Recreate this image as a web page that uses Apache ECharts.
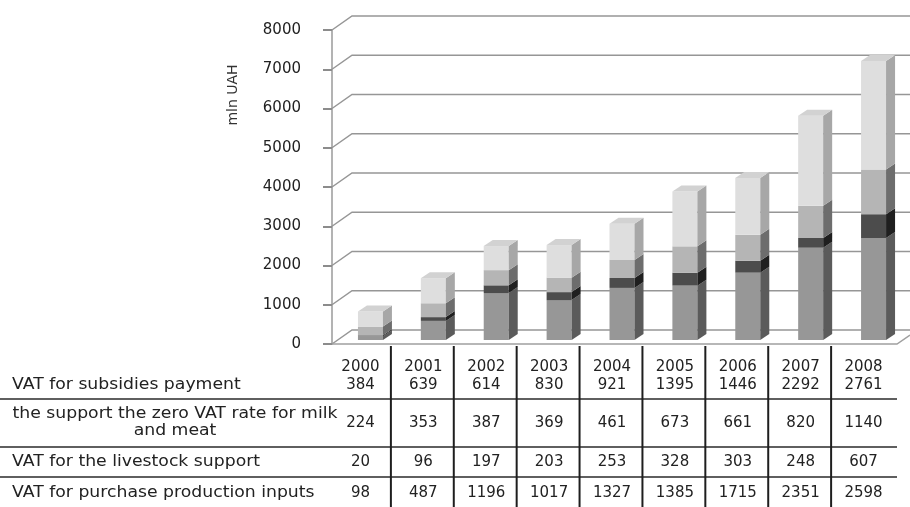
<!DOCTYPE html>
<html>
<head>
<meta charset="utf-8">
<script src="https://cdn.jsdelivr.net/npm/echarts@6/dist/echarts.min.js"></script>
<style>
  html, body { margin: 0; padding: 0; background: #ffffff; }
  #chart { width: 910px; height: 507px; }
</style>
</head>
<body>
<div id="chart"></div>
<script>
// VAT-based support of agriculture, mln UAH
const years = ['2000', '2001', '2002', '2003', '2004', '2005', '2006', '2007', '2008'];
const subsidiesVat = [384, 639, 614, 830, 921, 1395, 1446, 2292, 2761];
const zeroRateVat  = [224, 353, 387, 369, 461, 673, 661, 820, 1140];
const livestockVat = [20, 96, 197, 203, 253, 328, 303, 248, 607];
const inputsVat    = [98, 487, 1196, 1017, 1327, 1385, 1715, 2351, 2598];
const yTicks = [0, 1000, 2000, 3000, 4000, 5000, 6000, 7000, 8000];
const rowLabels = [
  'VAT for subsidies payment',
  'the support the zero VAT rate for milk\nand meat',
  'VAT for the livestock support',
  'VAT for purchase production inputs'
];
// table rows, top to bottom, in the order they are printed
const tableRows = [subsidiesVat, zeroRateVat, livestockVat, inputsVat];

const FONT = 'DejaVu Sans';
// 3D look: back wall offset and bar box geometry
const WALL_DX = 20, WALL_DY = 14;
const FACE_W = 25, SIDE_DX = 9, SIDE_DY = 6, BAR_SHIFT_X = 11, BAR_SHIFT_Y = -4;
// table row centres and rules
const ROW_Y = { header: 367, rows: [385, 423, 462, 493] };
const RULES_Y = [399, 447, 477];

function cumulative(lists) {
  return years.map((_, i) => lists.reduce((s, l) => s + l[i], 0));
}

function segmentSeries(name, values, below, colors, isTop) {
  return {
    type: 'custom',
    name: name,
    z: 3,
    data: values.map((v, i) => [i, below[i], below[i] + v]),
    encode: { x: 0, y: [1, 2] },
    renderItem: function (params, api) {
      const i = api.value(0);
      const pb = api.coord([i, api.value(1)]);
      const pt = api.coord([i, api.value(2)]);
      const cx = pb[0] + BAR_SHIFT_X;
      const x0 = cx - FACE_W / 2, x1 = cx + FACE_W / 2;
      const yb = pb[1] + BAR_SHIFT_Y, yt = pt[1] + BAR_SHIFT_Y;
      const children = [
        { type: 'rect', shape: { x: x0, y: yt, width: FACE_W, height: yb - yt },
          style: { fill: colors.front } },
        { type: 'polygon',
          shape: { points: [[x1, yb], [x1, yt], [x1 + SIDE_DX, yt - SIDE_DY], [x1 + SIDE_DX, yb - SIDE_DY]] },
          style: { fill: colors.side } }
      ];
      if (isTop) {
        children.push({ type: 'polygon',
          shape: { points: [[x0, yt], [x1, yt], [x1 + SIDE_DX, yt - SIDE_DY], [x0 + SIDE_DX, yt - SIDE_DY]] },
          style: { fill: colors.top } });
      }
      return { type: 'group', children: children };
    }
  };
}

const base0 = years.map(() => 0);
const base1 = cumulative([inputsVat]);
const base2 = cumulative([inputsVat, livestockVat]);
const base3 = cumulative([inputsVat, livestockVat, zeroRateVat]);

// back wall gridlines and the floor edge
const wallSeries = {
  type: 'custom',
  z: 1,
  silent: true,
  data: yTicks.map(v => [0, v]),
  encode: { x: 0, y: 1 },
  renderItem: function (params, api) {
    const cs = params.coordSys;
    const fx = cs.x + 4;
    const y = api.coord([0, api.value(1)])[1];
    const w = api.getWidth();
    const children = [{
      type: 'polyline',
      shape: { points: [[fx, y], [fx + WALL_DX, y - WALL_DY], [w, y - WALL_DY]] },
      style: { stroke: '#969696', lineWidth: 1.5, fill: null }
    }];
    if (api.value(1) === 0) {
      const rx = cs.x + cs.width + 3;
      children.push({
        type: 'polyline',
        shape: { points: [[fx, y], [rx, y], [rx + 13, y - 9]] },
        style: { stroke: '#a0a0a0', lineWidth: 1.5, fill: null }
      });
    }
    return { type: 'group', children: children };
  }
};

// data table under the plot: one column per year
const tableSeries = {
  type: 'custom',
  z: 4,
  silent: true,
  data: years.map((_, i) => [i, 0]),
  encode: { x: 0, y: 1 },
  renderItem: function (params, api) {
    const i = api.value(0);
    const x = api.coord([i, 0])[0];
    const band = api.size([1, 0])[0];
    const txt = (s, y) => ({
      type: 'text', x: x + 1, y: y,
      style: { text: String(s), fill: '#222', font: '15px "' + FONT + '"',
               textAlign: 'center', textVerticalAlign: 'middle' }
    });
    const children = [txt(years[i], ROW_Y.header)];
    tableRows.forEach((row, r) => children.push(txt(row[i], ROW_Y.rows[r])));
    if (i > 0) {
      children.push({
        type: 'line',
        shape: { x1: x - band / 2, y1: 346, x2: x - band / 2, y2: 507 },
        style: { stroke: '#1e1e1e', lineWidth: 2 }
      });
    }
    return { type: 'group', children: children };
  }
};

const graphics = [];
rowLabels.forEach((label, r) => {
  const centred = label.indexOf('\n') >= 0;
  graphics.push({
    type: 'text',
    x: centred ? 175 : 12,
    y: ROW_Y.rows[r],
    scaleX: 1.15,
    style: {
      text: label, fill: '#222', font: '15px "' + FONT + '"',
      textAlign: centred ? 'center' : 'left', textVerticalAlign: 'middle',
      lineHeight: 17
    }
  });
});
RULES_Y.forEach(y => graphics.push({
  type: 'line',
  shape: { x1: 0, y1: y, x2: 897, y2: y },
  style: { stroke: '#2a2a2a', lineWidth: 1.5 }
}));
graphics.push({
  type: 'text', x: 233, y: 95, rotation: Math.PI / 2,
  style: { text: 'mln UAH', fill: '#333', font: '14px "' + FONT + '"',
           textAlign: 'center', textVerticalAlign: 'middle' }
});

const chart = echarts.init(document.getElementById('chart'), null, { renderer: 'canvas' });
chart.setOption({
  animation: false,
  backgroundColor: '#ffffff',
  grid: { left: 328, right: 16, top: 30, bottom: 163 },
  xAxis: {
    type: 'category', data: years, boundaryGap: true,
    axisLine: { show: false }, axisTick: { show: false }, axisLabel: { show: false }
  },
  yAxis: {
    type: 'value', min: 0, max: 8000, interval: 1000, offset: -4,
    axisLine: { show: true, lineStyle: { color: '#9a9a9a', width: 1.5 } },
    axisTick: { show: true, length: 9, lineStyle: { color: '#8c8c8c', width: 2 } },
    axisLabel: { margin: 31, color: '#222', fontFamily: FONT, fontSize: 15,
                 formatter: v => String(v) },
    splitLine: { show: false }
  },
  series: [
    wallSeries,
    segmentSeries('VAT for purchase production inputs', inputsVat, base0,
      { front: '#979797', side: '#5b5b5b' }, false),
    segmentSeries('VAT for the livestock support', livestockVat, base1,
      { front: '#4c4c4c', side: '#1f1f1f' }, false),
    segmentSeries('the support the zero VAT rate for milk and meat', zeroRateVat, base2,
      { front: '#b5b5b5', side: '#6d6d6d' }, false),
    segmentSeries('VAT for subsidies payment', subsidiesVat, base3,
      { front: '#dedede', side: '#a7a7a7', top: '#d2d2d2' }, true),
    tableSeries
  ],
  graphic: graphics
});
</script>
</body>
</html>
